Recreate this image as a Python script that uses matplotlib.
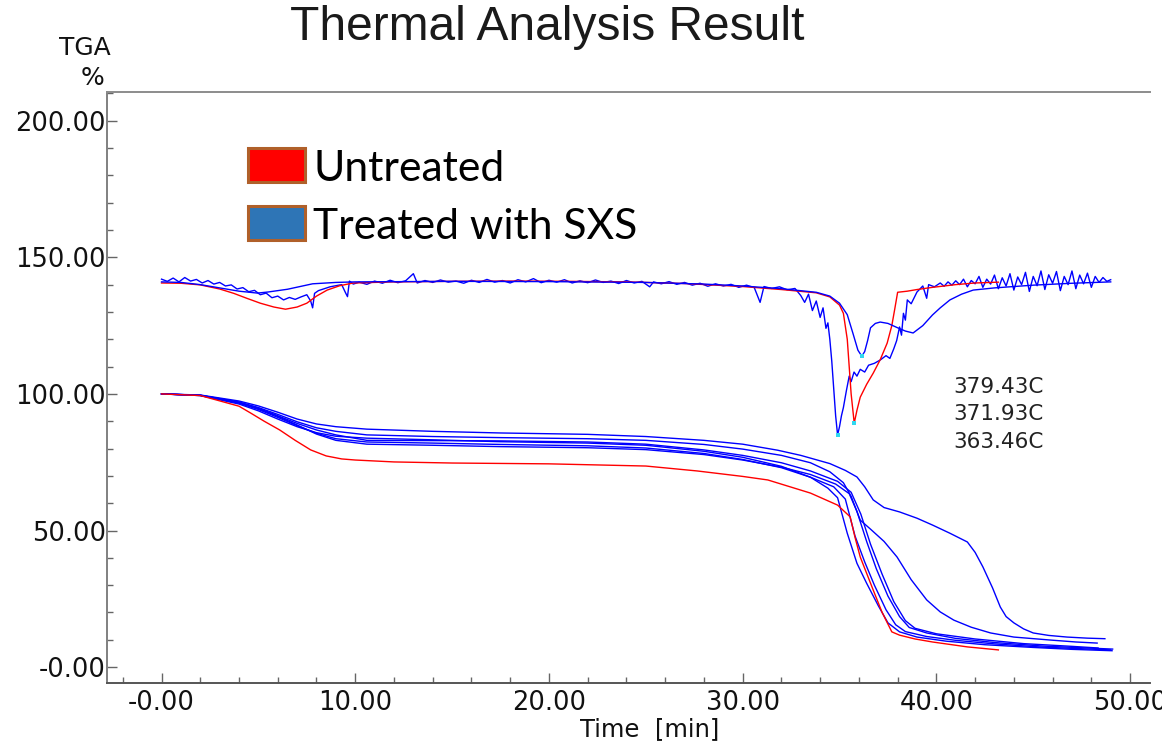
import numpy as np
import matplotlib
matplotlib.use('Agg')
from matplotlib import pyplot as plt
from matplotlib.patches import Rectangle
from matplotlib.ticker import MultipleLocator, FuncFormatter

# ---- data ----
# upper (DTA-like) curves, around 140 %
red_dta_t = [0, 1, 2, 3, 3.73, 4.4, 5.1, 5.8, 6.4, 7.0, 7.5, 8.0, 8.55, 9.2, 9.9, 12, 15, 18, 21, 24,
             27, 30, 32, 33.8, 34.5, 35.0, 35.2, 35.4, 35.6, 35.76, 35.9, 36.07, 36.4, 36.74, 37.1,
             37.46, 37.7, 37.85, 38.0, 38.5, 39.0, 39.8, 41, 42, 43.2]
red_dta_y = [140.6, 140.5, 139.9, 138.4, 136.8, 135.0, 133.2, 131.8, 131.0, 131.8, 133.2, 135.8,
             138.0, 139.6, 140.6, 141.0, 141.2, 141.3, 141.2, 141.0, 140.4, 139.3, 138.2, 137.0,
             135.5, 132.5, 129.5, 120.0, 100.0, 89.3, 94.0, 98.8, 103.5, 107.6, 112.5, 118.6,
             125.0, 131.0, 137.2, 137.6, 138.2, 139.0, 140.0, 140.6, 140.9]

blue_dta_smooth_t = [0, 1, 2, 3, 4, 4.95, 5.5, 6.5, 7.8, 9, 10, 15, 20, 25, 28, 30, 32, 33.8, 34.5,
                     35.0, 35.4, 35.7, 35.95, 36.15, 36.3, 36.45, 36.6, 36.85, 37.1, 37.5, 38.0,
                     38.4, 38.8, 39.3, 39.8, 40.2, 40.7, 41.3, 41.9, 43, 45, 47, 49]
blue_dta_smooth_y = [141.0, 140.8, 140.0, 138.8, 137.6, 136.9, 137.3, 138.3, 140.3, 140.8, 141.0,
                     141.2, 141.1, 140.8, 140.2, 139.5, 138.5, 137.2, 135.8, 133.2, 129.0, 122.0,
                     116.0, 113.8, 115.5, 119.5, 124.2, 125.8, 126.3, 125.8, 124.2, 123.0, 122.3,
                     125.0, 128.9, 131.5, 134.4, 136.5, 138.0, 138.8, 139.8, 140.5, 141.0]

blue_dta_noisy_t = [0.0, 0.3, 0.6, 0.9, 1.2, 1.5, 1.8, 2.1, 2.4, 2.7, 3.0, 3.3, 3.6, 3.9, 4.2, 4.5,
                    4.8, 5.1, 5.4, 5.7, 6.0, 6.3, 6.6, 6.9, 7.2, 7.5, 7.7, 7.8, 7.9, 8.1, 8.4, 8.7,
                    9.0, 9.3, 9.5, 9.6, 9.7, 9.9,
                    10.2, 10.6, 11.0, 11.4, 11.8, 12.2, 12.6, 13.0, 13.2, 13.6, 14.0, 14.4, 14.8,
                    15.2, 15.6, 16.0, 16.4, 16.8, 17.2, 17.6, 18.0, 18.4, 18.8, 19.2, 19.6, 20.0,
                    20.4, 20.8, 21.2, 21.6, 22.0, 22.4, 22.8, 23.2, 23.6, 24.0, 24.4, 24.8, 25.2,
                    25.4, 25.8, 26.2, 26.6, 27.0, 27.4, 27.8, 28.2, 28.6, 29.0, 29.4, 29.8, 30.2,
                    30.6, 30.9, 31.1, 31.5, 31.9, 32.3, 32.7,
                    33.0, 33.2, 33.4, 33.6, 33.8, 34.0, 34.15, 34.3, 34.4, 34.5, 34.6, 34.7, 34.8,
                    34.9, 35.0, 35.1, 35.2, 35.35, 35.5, 35.6, 35.75, 35.9, 36.07, 36.3, 36.5, 36.8,
                    37.1, 37.4, 37.6, 37.8, 37.95, 38.1, 38.2, 38.3, 38.4, 38.5, 38.7, 39.0, 39.3,
                    39.5, 39.6, 39.9,
                    40.2, 40.4, 40.6, 40.8, 41.0, 41.2, 41.4, 41.6, 41.8, 42.0, 42.2, 42.4, 42.6,
                    42.8, 43.0, 43.2, 43.4, 43.6, 43.8, 44.0, 44.2, 44.4, 44.6, 44.8, 45.0, 45.2,
                    45.4, 45.6, 45.8, 46.0, 46.2, 46.4, 46.6, 46.8, 47.0, 47.2, 47.4, 47.6, 47.8,
                    48.0, 48.2, 48.4, 48.6, 48.8, 49.0]
blue_dta_noisy_y = [142.0, 141.2, 142.4, 141.0, 142.6, 141.3, 141.9, 140.6, 141.5, 140.2, 140.8,
                    139.5, 139.9, 138.4, 138.9, 137.4, 137.9, 136.3, 136.9, 135.2, 135.8, 134.4,
                    135.3, 134.6, 135.5, 136.3, 134.0, 131.5, 136.8, 137.8, 138.5, 139.2, 139.6,
                    140.0, 137.0, 135.6, 141.3, 140.2,
                    140.9, 140.1, 141.3, 140.5, 141.6, 140.7, 141.4, 144.0, 140.6, 141.5, 140.8,
                    141.7, 140.9, 141.3, 140.5, 141.6, 140.8, 141.9, 140.9, 141.5, 140.6, 141.8,
                    141.0, 142.2, 140.7, 141.6, 140.9, 141.8, 140.6, 141.4, 140.7, 141.7, 140.8,
                    141.3, 140.4, 141.5, 140.6, 141.2, 139.2, 141.0, 140.3, 141.1, 140.1, 140.8,
                    139.8, 140.5, 139.4, 140.3, 139.5, 140.1, 139.0, 139.8, 138.9, 133.5, 139.3,
                    138.6, 139.2, 138.1, 138.6,
                    136.0, 133.5, 136.5, 130.5, 134.0, 128.0, 131.5, 124.0, 126.0, 120.0, 112.0,
                    102.0, 92.0, 85.0, 88.0, 92.0, 95.0, 101.0, 106.5, 104.5, 108.0, 106.5, 109.0,
                    108.0, 110.5, 111.2, 112.4, 114.0, 113.0, 116.5, 119.5, 124.5, 121.5, 129.5,
                    127.0, 134.4, 133.0, 137.3, 139.5, 135.0, 140.0, 139.2,
                    140.6, 139.4, 141.0, 139.8, 141.4, 140.0, 142.0, 139.2, 141.5, 140.3, 143.0,
                    139.0, 142.0, 140.2, 143.5, 138.5, 142.5, 139.5, 144.0, 138.0, 142.8, 140.0,
                    144.5, 137.5, 143.0, 139.6, 145.0, 138.2, 143.6, 140.5, 144.8, 137.8, 143.0,
                    140.0, 145.0, 138.5, 143.5, 140.3, 144.2, 139.0, 143.0, 140.8, 142.6, 141.2,
                    141.8]

# lower (TGA) curves, start at 100 %
red_tga_t = [0, 2, 4, 4.6, 5.3, 6.1, 6.9, 7.7, 8.5, 9.3, 10, 12, 15, 20, 25, 27.65, 30, 31.3, 33.5,
             34.9, 35.55, 35.8, 36.07, 36.74, 37.2, 37.7, 38.1, 38.9, 39.8, 41.6, 43.2]
red_tga_y = [100, 99.4, 95.5, 93.0, 90.0, 86.8, 83.0, 79.5, 77.3, 76.2, 75.8, 75.1, 74.7, 74.4,
             73.6, 71.8, 69.8, 68.5, 63.7, 59.3, 55.0, 47.5, 40.3, 28.2, 20.0, 12.9, 11.7, 10.3,
             9.2, 7.4, 6.3]

tga_b1_t = [0, 2, 4, 5, 6, 7, 8, 9, 10.6, 14, 17.5, 22, 25, 28, 30, 31.8, 33, 34.5, 35.3, 35.9,
            36.3, 36.74, 37.3, 38.1, 39.0, 39.8, 40.7, 41.6, 42.0, 42.4, 42.9, 43.3, 43.6, 44.0,
            44.5, 45.0, 45.8, 46.75, 47.8, 48.7]
tga_b1_y = [100, 99.6, 97.4, 95.6, 93.3, 90.8, 89.0, 88.0, 87.1, 86.3, 85.7, 85.2, 84.4, 83.0,
            81.6, 79.4, 77.5, 74.5, 72.0, 69.6, 66.0, 61.2, 58.4, 56.8, 54.5, 52.0, 49.0, 45.8,
            42.0, 36.7, 29.0, 22.0, 18.5, 16.2, 14.0, 12.5, 11.6, 11.0, 10.6, 10.4]

tga_b2_t = [0, 2, 4, 5, 6, 7, 8, 9, 10.6, 14, 17.5, 22, 25, 28, 30, 32, 33.5, 34.5, 35.2, 35.6,
            36.07, 36.6, 37.3, 37.97, 38.7, 39.5, 40.2, 40.9, 41.8, 42.8, 44.0, 45.9, 47.2, 48.3]
tga_b2_y = [100, 99.5, 97.0, 95.0, 92.5, 89.8, 87.6, 86.3, 85.0, 84.4, 84.0, 83.6, 83.0, 81.5,
            79.8, 77.5, 74.8, 71.5, 67.5, 62.5, 53.8, 50.5, 46.0, 40.3, 32.0, 24.6, 20.2, 17.2,
            14.6, 12.5, 11.0, 9.9, 9.2, 8.8]

tga_b3_t = [0, 2, 4, 5, 6, 7, 8, 9, 10.6, 14, 17.5, 22, 25, 28, 30, 32, 33.5, 34.4, 34.9, 35.4,
            35.9, 36.4, 37.0, 37.5, 38.1, 39.0, 40.5, 42.5, 45, 47, 49.07]
tga_b3_y = [100, 99.4, 96.3, 93.8, 90.8, 88.0, 85.8, 84.5, 83.8, 83.2, 82.5, 82.0, 81.2, 79.0,
            76.8, 73.5, 69.5, 65.5, 62.0, 49.0, 38.0, 30.7, 22.5, 16.2, 12.9, 11.0, 9.5, 8.2,
            7.2, 6.5, 6.0]

tga_b4_t = [0, 2, 4, 5, 6, 7, 8, 9, 10.6, 14, 17.5, 22, 25, 28, 30, 32, 33.5, 34.7, 35.3, 35.8,
            36.3, 36.8, 37.4, 37.9, 38.4, 39.5, 41, 43, 45.5, 49.0]
tga_b4_y = [100, 99.4, 96.6, 94.3, 91.4, 88.4, 85.6, 83.6, 82.4, 82.0, 81.5, 81.0, 80.2, 78.2,
            76.0, 73.0, 69.5, 66.0, 61.5, 48.0, 38.5, 30.0, 21.0, 15.5, 13.0, 11.2, 9.8, 8.5,
            7.3, 6.3]

tga_b5_t = [0, 2, 4, 5, 6, 7, 8, 9, 10.6, 14, 17.5, 22, 25, 28, 30, 32, 33.5, 34.8, 35.5, 35.9,
            36.4, 36.9, 37.5, 38.1, 38.6, 39.5, 41, 43, 45.5, 49.1]
tga_b5_y = [100, 99.5, 96.8, 94.6, 91.8, 88.6, 85.3, 83.0, 81.6, 81.2, 80.7, 80.3, 79.6, 77.8,
            75.8, 73.2, 70.5, 67.0, 63.5, 57.0, 46.0, 36.0, 26.0, 18.5, 14.5, 12.5, 10.5, 9.0,
            7.7, 6.6]

tga_b6_t = [0, 2, 4, 5, 6, 7, 8, 9, 10.6, 14, 17.5, 22, 25, 28, 30, 32, 33.5, 34.9, 35.6, 36.1,
            36.6, 37.2, 37.8, 38.4, 38.9, 40, 42, 44.5, 47, 48.35]
tga_b6_y = [100, 99.5, 97.0, 94.8, 92.0, 89.2, 86.8, 85.0, 83.0, 82.9, 82.8, 82.4, 81.6, 79.5,
            77.5, 74.8, 71.8, 68.0, 64.0, 56.0, 45.0, 34.0, 24.0, 17.0, 14.2, 12.2, 10.3, 8.6,
            7.6, 7.0]

peak_labels = ['379.43C', '371.93C', '363.46C']
legend_labels = ['Untreated', 'Treated with SXS']

RED = '#ff0000'
BLUE = '#0000ff'

fig = plt.figure(figsize=(11.62, 7.46), dpi=100)
ax = fig.add_axes([0.0925, 0.0845, 0.8972, 0.7918])

# TGA curves
for t, y in [(tga_b1_t, tga_b1_y), (tga_b2_t, tga_b2_y), (tga_b3_t, tga_b3_y),
             (tga_b4_t, tga_b4_y), (tga_b5_t, tga_b5_y), (tga_b6_t, tga_b6_y)]:
    ax.plot(t, y, color=BLUE, lw=1.0)
ax.plot(red_tga_t, red_tga_y, color=RED, lw=1.0)

# DTA curves
ax.plot(blue_dta_noisy_t, blue_dta_noisy_y, color=BLUE, lw=1.0)
ax.plot(red_dta_t, red_dta_y, color=RED, lw=1.0)
ax.plot(blue_dta_smooth_t, blue_dta_smooth_y, color=BLUE, lw=1.0)

# little cyan marks at the peak minima
for t, y in [(blue_dta_noisy_t, blue_dta_noisy_y), (red_dta_t, red_dta_y),
             (blue_dta_smooth_t, blue_dta_smooth_y)]:
    i = int(np.argmin(y))
    ax.plot(t[i], y[i], 's', color='#30d8f0', ms=2.5, mew=0)

ax.set_xlim(-2.79, 51.03)
ax.set_ylim(-5.8, 210.4)
ax.xaxis.set_major_locator(MultipleLocator(10))
ax.xaxis.set_minor_locator(MultipleLocator(2))
ax.yaxis.set_major_locator(MultipleLocator(50))
ax.yaxis.set_minor_locator(MultipleLocator(10))
fmt = FuncFormatter(lambda v, p: '-0.00' if abs(v) < 1e-9 else '%.2f' % v)
ax.xaxis.set_major_formatter(fmt)
ax.yaxis.set_major_formatter(fmt)

ax.tick_params(which='both', direction='in', colors='#666666', width=1.0,
               labelcolor='#111111', labelsize=18.5)
ax.tick_params(which='major', length=7)
ax.tick_params(which='minor', length=4)
ax.tick_params(axis='y', pad=1)
ax.tick_params(axis='x', pad=5)
for lab in ax.get_xticklabels() + ax.get_yticklabels():
    lab.set_family('DejaVu Sans')

ax.spines['right'].set_visible(False)
ax.spines['left'].set_color('#808080')
ax.spines['top'].set_color('#8c8c8c')
ax.spines['bottom'].set_color('#555555')
for s in ['left', 'top', 'bottom']:
    ax.spines[s].set_linewidth(1.4)

# peak temperature labels
for k, txt in enumerate(peak_labels):
    ax.text(40.87, 102.6 - k * 10.05, txt, fontsize=15.5, family='DejaVu Sans',
            color='#222222', ha='left', va='center')

# titles / axis labels
fig.text(0.4707, 0.9464, 'Thermal Analysis Result', fontsize=34.5,
         family='Liberation Sans', color='#1a1a1a', ha='center', va='baseline')
fig.text(0.0727, 0.926, 'TGA', fontsize=18, family='DejaVu Sans', color='#111111',
         ha='center', va='baseline')
fig.text(0.0792, 0.886, '%', fontsize=18, family='DejaVu Sans', color='#111111',
         ha='center', va='baseline')
fig.text(0.559, 0.013, 'Time  [min]', fontsize=17.5, family='DejaVu Sans',
         color='#111111', ha='center', va='baseline')

# legend boxes (drawn over the plot like in the original)
box_colors = [RED, '#2e75b6']
box_y = [0.756, 0.6783]
for c, y0, lab in zip(box_colors, box_y, legend_labels):
    fig.patches.append(Rectangle((0.2132, y0), 0.0493, 0.0456, transform=fig.transFigure,
                                 facecolor=c, edgecolor='#b0602a', linewidth=2.2))
    fig.text(0.2694, y0 + 0.0008, lab, fontsize=30.7, family='Lato', color='black',
             ha='left', va='baseline')

plt.savefig('out.png', dpi=100)
